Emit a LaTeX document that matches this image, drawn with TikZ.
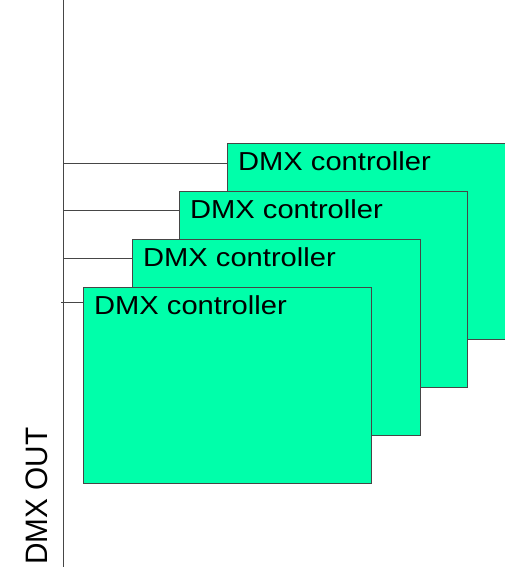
\documentclass[tikz,border=0pt]{standalone}
\usepackage{fontspec}
\setmainfont{Liberation Sans}
\definecolor{boxfill}{RGB}{0,255,170}
\definecolor{linegray}{RGB}{70,70,70}
\begin{document}
\begin{tikzpicture}[x=1pt,y=-1pt,
  ctrl/.style={draw=linegray, line width=0.9pt, fill=boxfill, anchor=north west,
    minimum width=288pt, minimum height=196pt, inner sep=0pt, outer sep=0pt},
  lbl/.style={anchor=base west, inner sep=0pt, font=\fontsize{26}{30}\selectfont},
  outlbl/.style={anchor=base west, inner sep=0pt, font=\fontsize{31}{34}\selectfont, rotate=90},
  wire/.style={draw=linegray, line width=0.9pt}]
\useasboundingbox (0,0) rectangle (504,567);
\coordinate (bustop) at (63,0);
\coordinate (busbot) at (63,567);
\coordinate (t1) at (63,163);
\coordinate (t2) at (63,210);
\coordinate (t3) at (63,258);
\coordinate (t4) at (61,302);
\draw[wire] (bustop) -- (busbot);
% back to front
\node[ctrl] (b1) at (227,143) {};
\draw[wire] (t1) -- (t1 -| b1.west);
\node[lbl] (l1) at ([shift={(11,27)}]b1.north west) {\scalebox{1.12}[1]{DMX controller}};
\node[ctrl] (b2) at (179,191) {};
\draw[wire] (t2) -- (t2 -| b2.west);
\node[lbl] (l2) at ([shift={(11,27)}]b2.north west) {\scalebox{1.12}[1]{DMX controller}};
\node[ctrl] (b3) at (132,239) {};
\draw[wire] (t3) -- (t3 -| b3.west);
\node[lbl] (l3) at ([shift={(11,27)}]b3.north west) {\scalebox{1.12}[1]{DMX controller}};
\node[ctrl] (b4) at (83,287) {};
\draw[wire] (t4) -- (t4 -| b4.west);
\node[lbl] (l4) at ([shift={(11,27)}]b4.north west) {\scalebox{1.12}[1]{DMX controller}};
\node[outlbl] (out) at (47,565) {\scalebox{0.96}[1]{DMX OUT}};
\end{tikzpicture}
\end{document}
